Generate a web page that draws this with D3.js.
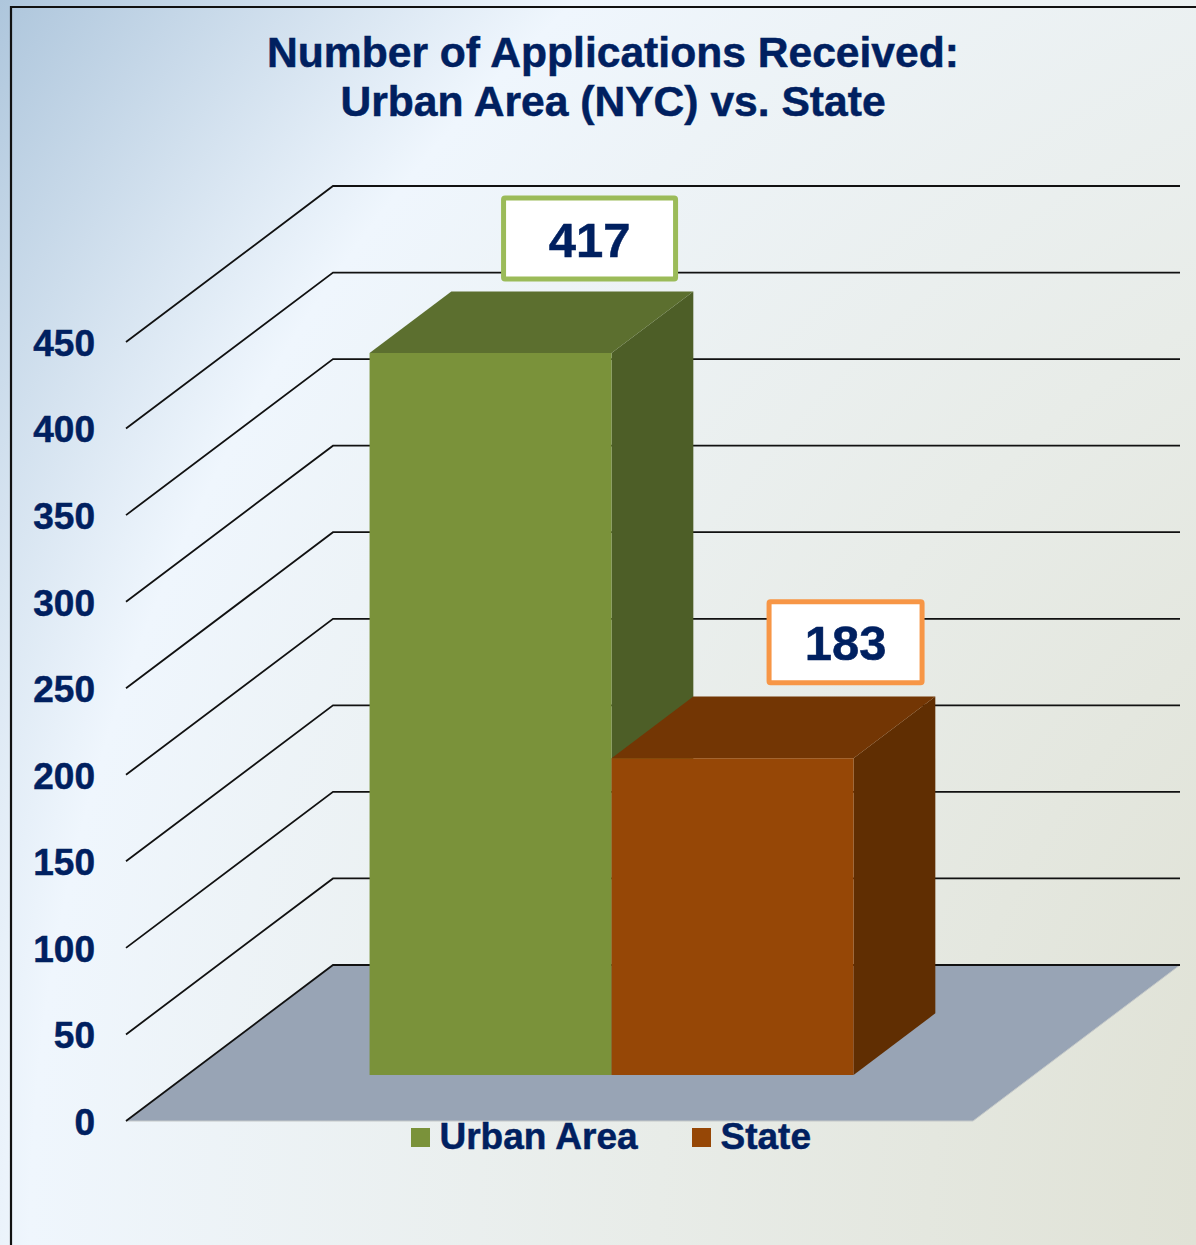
<!DOCTYPE html>
<html>
<head>
<meta charset="utf-8">
<script src="https://cdn.jsdelivr.net/npm/d3@7"></script>
<style>
  html, body { margin: 0; padding: 0; background: #e8ecea; }
  svg { display: block; }
  text { font-family: "Liberation Sans", Arial, sans-serif; font-weight: bold; fill: #002060; stroke: #002060; stroke-width: 0.5px; }
</style>
</head>
<body>
<svg id="myChart" width="1196" height="1245"></svg>
<script>
// Chart data
const seriesNames = ["Urban Area", "State"];
const seriesValues = [417, 183];
const tickValues = [0, 50, 100, 150, 200, 250, 300, 350, 400, 450];
const titleLines = ["Number of Applications Received:", "Urban Area (NYC) vs. State"];

const faceColors = ["#7a923a", "#964706"];
const topColors = ["#5c6f2f", "#733604"];
const sideColors = ["#4d5e27", "#602e02"];
const labelBorders = ["#9bbb59", "#f79646"];

const svg = d3.select("#myChart");
const width = +svg.attr("width");
const height = +svg.attr("height");

// Background, the bands curve around a centre past the bottom right corner
const defs = svg.append("defs");
const bg = defs.append("radialGradient")
    .attr("id", "bg")
    .attr("gradientUnits", "userSpaceOnUse")
    .attr("cx", 1719).attr("cy", 1245)
    .attr("r", 2122);
bg.selectAll("stop")
    .data([[0.246, "#e0e2d6"], [0.5, "#e8ece8"], [0.796, "#eff6fd"], [1, "#aec6dc"]])
    .join("stop")
    .attr("offset", d => d[0])
    .attr("stop-color", d => d[1]);

svg.append("rect")
    .attr("width", width).attr("height", height)
    .attr("fill", "url(#bg)");

svg.append("path")
    .attr("d", `M11,${height}V7H${width}`)
    .attr("fill", "none")
    .attr("stroke", "#111")
    .attr("stroke-width", 2.2);

// Scales: y is measured on the front plane, depth shifts things back and up
const yScale = d3.scaleLinear().domain([0, 450]).range([1121, 342]);
const xScale = d3.scaleBand()
    .domain(seriesNames)
    .range([1, 848])
    .paddingInner(0)
    .paddingOuter(0.75);

const originX = 126;
const depthX = 207;
const depthY = 156;
const barFront = 0.295;
const barBack = 0.69;

function project(x, v, depth) {
    return [originX + x + depth * depthX, yScale(v) - depth * depthY];
}

const lineGen = d3.line();

// Floor
svg.append("path")
    .attr("d", lineGen([
        project(0, 0, 0), project(0, 0, 1),
        project(847, 0, 1), project(847, 0, 0)
    ]) + "Z")
    .attr("fill", "#98a4b5")
    .attr("stroke", "#c4c8c8")
    .attr("stroke-width", 1);

// Wall gridlines
svg.append("g")
    .selectAll("path")
    .data(tickValues)
    .join("path")
    .attr("d", d => lineGen([project(0, d, 0), project(0, d, 1), project(847, d, 1)]))
    .attr("fill", "none")
    .attr("stroke", "#111")
    .attr("stroke-width", 1.8);

// Y axis labels
const yAxis = svg.append("g")
    .attr("transform", "translate(105,1.5)")
    .call(d3.axisLeft(yScale).tickValues(tickValues).tickSize(0).tickPadding(10));
yAxis.select(".domain").remove();
yAxis.selectAll("text")
    .style("font-family", '"Liberation Sans", Arial, sans-serif')
    .style("font-size", "37px")
    .style("font-weight", "bold")
    .attr("fill", "#002060");

// Bars, the second one hides the lower part of the first one's side
const bars = svg.append("g")
    .selectAll("g")
    .data(seriesNames)
    .join("g");

bars.append("path") // side
    .attr("fill", (d, i) => sideColors[i])
    .attr("d", (d, i) => {
        const x = xScale(d) + xScale.bandwidth();
        return lineGen([
            project(x, 0, barFront), project(x, 0, barBack),
            project(x, seriesValues[i], barBack), project(x, seriesValues[i], barFront)
        ]) + "Z";
    });

bars.append("path") // top
    .attr("fill", (d, i) => topColors[i])
    .attr("d", (d, i) => {
        const x = xScale(d);
        const w = xScale.bandwidth();
        return lineGen([
            project(x, seriesValues[i], barFront), project(x, seriesValues[i], barBack),
            project(x + w, seriesValues[i], barBack), project(x + w, seriesValues[i], barFront)
        ]) + "Z";
    });

bars.append("path") // front
    .attr("fill", (d, i) => faceColors[i])
    .attr("d", (d, i) => {
        const x = xScale(d);
        const w = xScale.bandwidth();
        return lineGen([
            project(x, 0, barFront), project(x, seriesValues[i], barFront),
            project(x + w, seriesValues[i], barFront), project(x + w, 0, barFront)
        ]) + "Z";
    });

// Value labels
const labelW = [172, 153];
const labelDx = [99, 113];
const labelDy = [114.5, 116];
const labelH = 81;

const labels = svg.append("g")
    .selectAll("g")
    .data(seriesNames)
    .join("g")
    .attr("transform", (d, i) => {
        const p = project(xScale(d) + xScale.bandwidth() / 2, seriesValues[i], barFront);
        return `translate(${p[0] + labelDx[i]},${p[1] - labelDy[i]})`;
    });

labels.append("rect")
    .attr("x", (d, i) => -labelW[i] / 2)
    .attr("y", -labelH / 2)
    .attr("width", (d, i) => labelW[i])
    .attr("height", labelH)
    .attr("rx", 1.5)
    .attr("fill", "#fff")
    .attr("stroke", (d, i) => labelBorders[i])
    .attr("stroke-width", 5);

labels.append("text")
    .attr("text-anchor", "middle")
    .attr("y", 18)
    .style("font-size", "49px")
    .text((d, i) => seriesValues[i]);

// Title
svg.append("g")
    .selectAll("text")
    .data(titleLines)
    .join("text")
    .attr("x", 613)
    .attr("y", (d, i) => 67 + i * 49)
    .attr("text-anchor", "middle")
    .style("font-size", "42.6px")
    .text(d => d);

// Legend
const legendX = [411, 692];
const legend = svg.append("g")
    .selectAll("g")
    .data(seriesNames)
    .join("g")
    .attr("transform", (d, i) => `translate(${legendX[i]},1128)`);

legend.append("rect")
    .attr("width", 19)
    .attr("height", 19)
    .attr("fill", (d, i) => faceColors[i]);

legend.append("text")
    .attr("x", 28.5)
    .attr("y", 21)
    .style("font-size", "37px")
    .text(d => d);
</script>
</body>
</html>
